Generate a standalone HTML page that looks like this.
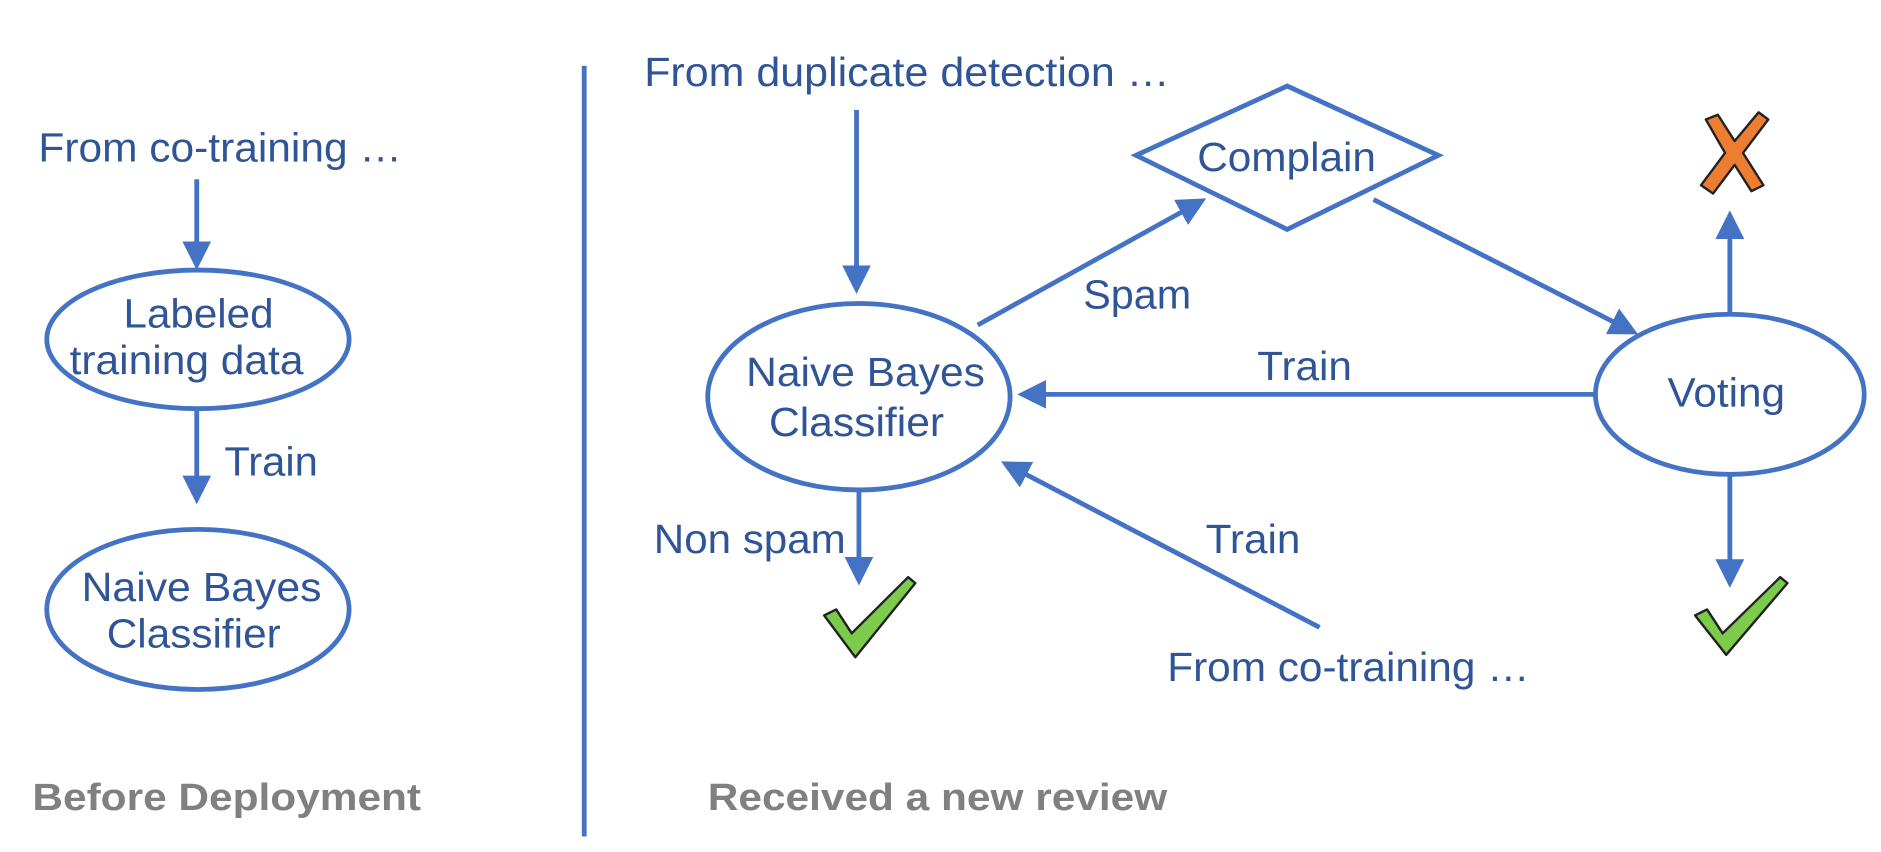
<!DOCTYPE html>
<html><head><meta charset="utf-8"><style>html,body{margin:0;padding:0;background:#fff;width:1881px;height:852px;overflow:hidden}</style></head>
<body>
<svg width="1881" height="852" viewBox="0 0 1568 713" preserveAspectRatio="none" xmlns="http://www.w3.org/2000/svg" font-family="Liberation Sans, sans-serif">
<defs>
<marker id="a" markerWidth="6" markerHeight="6" refX="5" refY="3" orient="auto" markerUnits="strokeWidth"><path d="M0,0 L6,3 L0,6 z" fill="#4472C4"/></marker>
</defs>
<g stroke="#4472C4" stroke-width="4" fill="none">
<line x1="487" y1="55" x2="487" y2="700"/>
<line x1="164" y1="150" x2="164" y2="222" marker-end="url(#a)"/>
<ellipse cx="165" cy="284" rx="126" ry="58"/>
<line x1="164" y1="343" x2="164" y2="418" marker-end="url(#a)"/>
<ellipse cx="165" cy="510" rx="126" ry="67"/>
<line x1="714" y1="92" x2="714" y2="242" marker-end="url(#a)"/>
<ellipse cx="716" cy="332" rx="126" ry="78"/>
<polygon points="947,130 1073,72 1199,130 1073,192"/>
<line x1="815" y1="272" x2="1002" y2="168" marker-end="url(#a)"/>
<line x1="1145" y1="167" x2="1362" y2="278" marker-end="url(#a)"/>
<ellipse cx="1442" cy="330" rx="112" ry="67"/>
<line x1="1330" y1="330" x2="852" y2="330" marker-end="url(#a)"/>
<line x1="1442" y1="263" x2="1442" y2="180" marker-end="url(#a)"/>
<line x1="1442" y1="397" x2="1442" y2="488" marker-end="url(#a)"/>
<line x1="716" y1="410" x2="716" y2="486" marker-end="url(#a)"/>
<line x1="1100" y1="525" x2="838" y2="388" marker-end="url(#a)"/>
</g>
<g fill="#2F5597" font-size="34" lengthAdjust="spacingAndGlyphs">
<text x="32" y="135" textLength="303" lengthAdjust="spacingAndGlyphs">From co-training …</text>
<text x="103" y="274" textLength="125" lengthAdjust="spacingAndGlyphs">Labeled</text>
<text x="58" y="313" textLength="195" lengthAdjust="spacingAndGlyphs">training data</text>
<text x="187" y="398" textLength="78" lengthAdjust="spacingAndGlyphs">Train</text>
<text x="68" y="503" textLength="200" lengthAdjust="spacingAndGlyphs">Naive Bayes</text>
<text x="89" y="542" textLength="145" lengthAdjust="spacingAndGlyphs">Classifier</text>
<text x="537" y="72" textLength="438" lengthAdjust="spacingAndGlyphs">From duplicate detection …</text>
<text x="622" y="323" textLength="199" lengthAdjust="spacingAndGlyphs">Naive Bayes</text>
<text x="641" y="365" textLength="146" lengthAdjust="spacingAndGlyphs">Classifier</text>
<text x="998" y="143" textLength="149" lengthAdjust="spacingAndGlyphs">Complain</text>
<text x="903" y="258" textLength="90" lengthAdjust="spacingAndGlyphs">Spam</text>
<text x="1048" y="318" textLength="79" lengthAdjust="spacingAndGlyphs">Train</text>
<text x="1390" y="340" textLength="98" lengthAdjust="spacingAndGlyphs">Voting</text>
<text x="545" y="463" textLength="160" lengthAdjust="spacingAndGlyphs">Non spam</text>
<text x="1005" y="463" textLength="79" lengthAdjust="spacingAndGlyphs">Train</text>
<text x="973" y="570" textLength="302" lengthAdjust="spacingAndGlyphs">From co-training …</text>
</g>
<g fill="#808080" font-size="32" font-weight="bold">
<text x="27" y="678" textLength="324" lengthAdjust="spacingAndGlyphs">Before Deployment</text>
<text x="590" y="678" textLength="383" lengthAdjust="spacingAndGlyphs">Received a new review</text>
</g>
<g stroke="#222" stroke-width="2" stroke-linejoin="round">
<path d="M1422,100 L1432,96 L1446,118 L1466,94 L1474,100 L1453,128 L1470,155 L1460,160 L1446,138 L1428,162 L1418,155 L1438,128 Z" fill="#ED7D31"/>
<path d="M687,515 L697,510 L710,530 L757,483 L763,488 L713,550 Z" fill="#7CCB4A"/>
<path d="M1413,515 L1423,510 L1436,530 L1484,483 L1490,488 L1439,548 Z" fill="#7CCB4A"/>
</g>
</svg>
</body></html>
